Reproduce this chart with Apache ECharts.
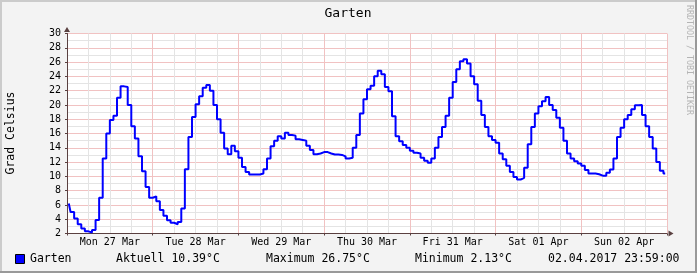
<!DOCTYPE html>
<html><head><meta charset="utf-8">
<script src="https://cdn.jsdelivr.net/npm/echarts@6/dist/echarts.min.js"></script>
<style>html,body{margin:0;padding:0;background:#f3f3f3}#c{width:697px;height:273px}</style>
</head><body><div id="c"></div>
<script>
// tick labels at noon of each day
const dayLabels = ['Mon 27 Mar','Tue 28 Mar','Wed 29 Mar','Thu 30 Mar','Fri 31 Mar','Sat 01 Apr','Sun 02 Apr'];
// hourly temperatures (°C), one array per day, hour 0..23
const mon = [6.2,5.0,4.1,3.3,2.7,2.3,2.15,2.5,3.9,7.0,12.5,16.0,17.9,18.5,21.0,22.6,22.5,20.0,17.0,15.3,12.8,10.7,8.5,7.0];
const tue = [7.2,6.5,5.3,4.5,3.85,3.5,3.3,3.6,5.5,11.0,15.5,18.3,20.1,21.2,22.4,22.8,22.0,20.0,18.0,16.1,13.9,13.1,14.3,13.5];
const wed = [12.6,11.3,10.6,10.25,10.25,10.25,10.4,11.0,12.5,14.2,15.0,15.6,15.3,16.1,15.8,15.7,15.2,15.1,15.0,14.3,13.7,13.1,13.2,13.4];
const thu = [13.4,13.2,13.05,13.05,13.0,12.8,12.5,12.6,14.0,15.8,18.8,20.8,22.2,22.7,24.0,24.8,24.3,22.5,21.9,18.4,15.6,14.9,14.4,14.0];
const fri = [13.6,13.3,13.2,12.6,12.2,11.9,12.5,14.0,15.5,16.9,18.5,21.0,23.2,25.0,26.1,26.4,25.8,24.0,22.9,20.6,18.6,16.9,15.6,15.1];
const sat = [14.7,13.2,12.4,11.5,10.6,9.9,9.55,9.8,11.2,14.5,16.9,18.8,19.8,20.5,21.1,20.0,19.3,18.2,16.8,15.0,13.2,12.5,12.1,11.8];
const sun = [11.5,10.9,10.4,10.4,10.3,10.1,10.1,10.5,10.95,12.5,15.5,16.8,18.0,18.6,19.4,19.95,20.0,18.6,17.0,15.5,13.9,12.0,10.8,10.4];
const seriesName = 'Garten';
const legendStats = ['Aktuell 10.39°C','Maximum 26.75°C','Minimum 2.13°C','02.04.2017 23:59:00'];
const yAxisTitle = 'Grad Celsius';

const FONT = 'DejaVu Sans Mono';
const hours = [mon,tue,wed,thu,fri,sat,sun].flat();
const data = hours.map((v,i)=>[i+0.5, v]);

const chart = echarts.init(document.getElementById('c'), null, {renderer:'canvas'});
const AX = '#5a4040';
const MAJOR = {show:true, lineStyle:{color:'#f1c2c2', width:1, type:'solid'}};
const MINOR = {show:true, lineStyle:{color:'#e4e4e4', width:1, type:'solid'}};
chart.setOption({
  backgroundColor:'#f3f3f3',
  animation:false,
  grid:{left:67, top:33.5, width:600, height:200, show:true, backgroundColor:'#ffffff', borderWidth:0},
  xAxis:[
    {type:'value', min:0, max:168, interval:24, position:'bottom',
     splitLine:MAJOR,
     minorTick:{show:false, splitNumber:4},
     minorSplitLine:MINOR,
     axisLine:{show:true, lineStyle:{color:AX, width:1}, symbol:['none','triangle'], symbolSize:[6,5], symbolOffset:[0,4]},
     axisTick:{show:true, inside:false, length:2, lineStyle:{color:AX}},
     axisLabel:{show:false}},
    {type:'value', min:0, max:168, interval:12, position:'bottom',
     splitLine:{show:false}, axisLine:{show:false}, axisTick:{show:false},
     axisLabel:{show:true, margin:4, fontFamily:FONT, fontSize:10, color:'#000',
       formatter:v=> (v%24===12 ? dayLabels[(v-12)/24] : '')}}
  ],
  yAxis:[
    {type:'value', min:2, max:30, interval:2, position:'left',
     splitLine:MAJOR,
     minorTick:{show:false, splitNumber:2},
     minorSplitLine:MINOR,
     axisLine:{show:true, lineStyle:{color:AX, width:1}, symbol:['none','triangle'], symbolSize:[6,5], symbolOffset:[0,4]},
     axisTick:{show:true, length:2, lineStyle:{color:AX}},
     axisLabel:{margin:6, fontFamily:FONT, fontSize:10, color:'#000'}}
  ],
  series:[{
    name:seriesName, type:'line', xAxisIndex:0, yAxisIndex:0, step:'middle',
    showSymbol:false, symbol:'none', data:data,
    lineStyle:{color:'#0000ff', width:2}, z:5
  }],
  graphic:[
    {type:'rect', shape:{x:0,y:0,width:697,height:2}, style:{fill:'#cbcbcb'}, silent:true},
    {type:'rect', shape:{x:0,y:0,width:2,height:273}, style:{fill:'#cbcbcb'}, silent:true},
    {type:'rect', shape:{x:0,y:271,width:697,height:2}, style:{fill:'#999999'}, silent:true},
    {type:'rect', shape:{x:695,y:0,width:2,height:273}, style:{fill:'#999999'}, silent:true},
    {type:'text', x:348, y:13.5, style:{text:seriesName, font:'13px "'+FONT+'"', fill:'#000', align:'center', verticalAlign:'middle'}},
    {type:'text', x:11, y:133, rotation:Math.PI/2, style:{text:yAxisTitle, font:'11.5px "'+FONT+'"', fill:'#000', align:'center', verticalAlign:'middle'}},
    {type:'text', x:689, y:60, rotation:-Math.PI/2, style:{text:'RRDTOOL / TOBI OETIKER', font:'8.3px "'+FONT+'"', fill:'#b4b4b4', align:'center', verticalAlign:'middle'}},
    {type:'rect', shape:{x:15.5,y:254.5,width:9,height:9}, style:{fill:'#0000ff', stroke:'#000', lineWidth:1}},
    {type:'text', x:30, y:259.5, style:{text:seriesName, font:'11.5px "'+FONT+'"', fill:'#000', align:'left', verticalAlign:'middle'}},
    {type:'text', x:116, y:259.5, style:{text:legendStats[0], font:'11.5px "'+FONT+'"', fill:'#000', align:'left', verticalAlign:'middle'}},
    {type:'text', x:266, y:259.5, style:{text:legendStats[1], font:'11.5px "'+FONT+'"', fill:'#000', align:'left', verticalAlign:'middle'}},
    {type:'text', x:415, y:259.5, style:{text:legendStats[2], font:'11.5px "'+FONT+'"', fill:'#000', align:'left', verticalAlign:'middle'}},
    {type:'text', x:548, y:259.5, style:{text:legendStats[3], font:'11.5px "'+FONT+'"', fill:'#000', align:'left', verticalAlign:'middle'}}
  ]
});
</script></body></html>
